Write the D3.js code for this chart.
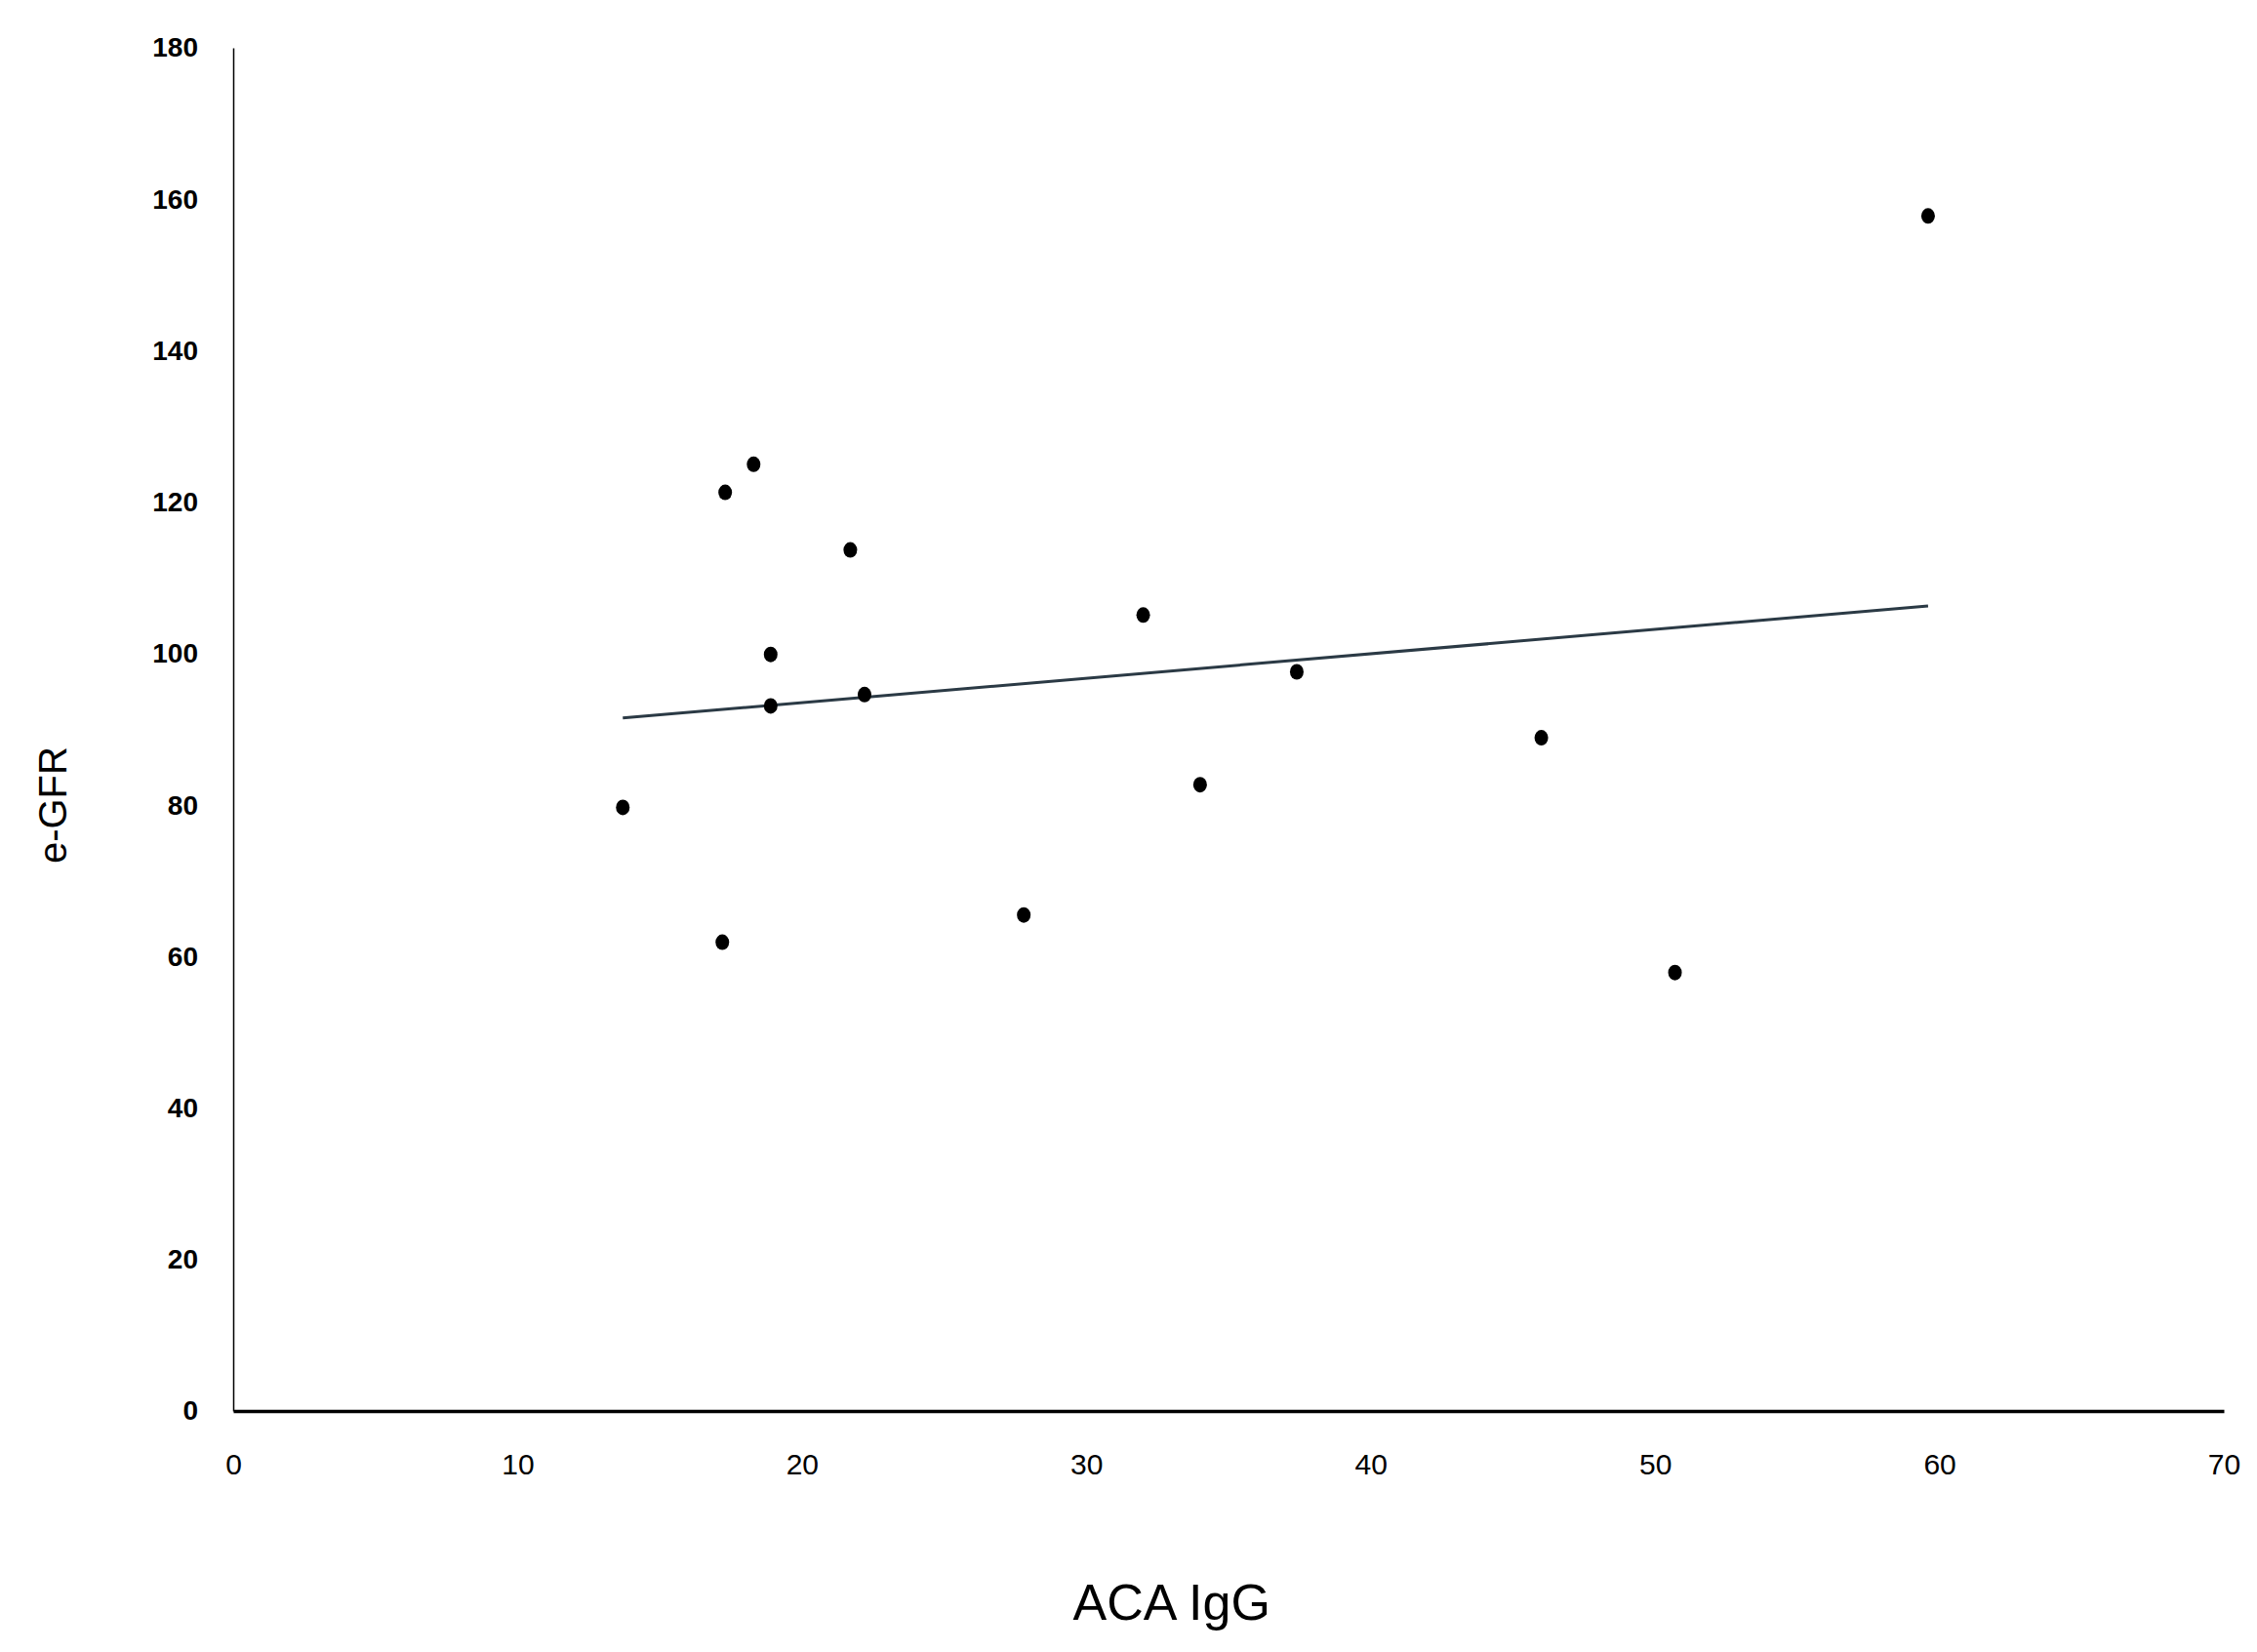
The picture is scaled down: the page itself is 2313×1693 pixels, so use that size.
<!DOCTYPE html>
<html>
<head>
<meta charset="utf-8">
<script src="https://cdn.jsdelivr.net/npm/d3@7"></script>
<style>
  body { margin: 0; background: #fff; }
  text { font-family: "Liberation Sans Narrow", "Liberation Sans", Arial, sans-serif; }
</style>
</head>
<body>
<svg id="chart" width="2313" height="1693"></svg>
<script>
// --- Data ---
const acaIgG = [13.7, 17.3, 18.3, 17.2, 18.9, 18.9, 21.7, 22.2, 27.8, 32.0, 34.0, 37.4, 46.0, 50.7, 59.6];
const eGFR   = [79.7, 121.3, 125.0, 61.9, 99.9, 93.1, 113.7, 94.6, 65.5, 105.1, 82.7, 97.6, 88.9, 57.9, 157.8];
const trendX = [13.7, 59.6];
const trendY = [91.5, 106.3];
const xTicks = [0, 10, 20, 30, 40, 50, 60, 70];
const yTicks = [0, 20, 40, 60, 80, 100, 120, 140, 160, 180];

// --- Layout ---
const svg = d3.select("#chart");
const plotLeft = 239, plotRight = 2279, plotTop = 49, plotBottom = 1446;

const x = d3.scaleLinear().domain([0, 70]).range([plotLeft, plotRight]);
const y = d3.scaleLinear().domain([0, 180]).range([plotBottom, plotTop]);

// Axes
const xAxis = svg.append("g")
    .attr("transform", `translate(0,${plotBottom})`)
    .call(d3.axisBottom(x).tickValues(xTicks).tickSize(0).tickPadding(44));
xAxis.select(".domain").attr("stroke", "#000").attr("stroke-width", 3.5);
xAxis.selectAll("text")
    .attr("font-size", 30).attr("fill", "#000");

const yAxis = svg.append("g")
    .attr("transform", `translate(${plotLeft},0)`)
    .call(d3.axisLeft(y).tickValues(yTicks).tickSize(0).tickPadding(36));
yAxis.select(".domain").attr("stroke", "#000").attr("stroke-width", 1.5);
yAxis.selectAll("text")
    .attr("font-size", 28).attr("font-weight", "bold").attr("fill", "#000");

// Trend line
svg.append("line")
    .attr("x1", x(trendX[0])).attr("y1", y(trendY[0]))
    .attr("x2", x(trendX[1])).attr("y2", y(trendY[1]))
    .attr("stroke", "#2b3a45").attr("stroke-width", 3);

// Points
svg.append("g").selectAll("ellipse")
    .data(acaIgG.map((v, i) => [v, eGFR[i]]))
    .join("ellipse")
    .attr("cx", d => x(d[0]))
    .attr("cy", d => y(d[1]))
    .attr("rx", 7).attr("ry", 8)
    .attr("fill", "#000");

// Axis titles
svg.append("text")
    .attr("x", x(33)).attr("y", 1660)
    .attr("text-anchor", "middle")
    .attr("font-size", 52)
    .text("ACA IgG");

svg.append("text")
    .attr("transform", `translate(68,${y(80)}) rotate(-90)`)
    .attr("text-anchor", "middle")
    .attr("font-size", 40)
    .attr("font-family", "DejaVu Sans, sans-serif")
    .text("e-GFR");
</script>
</body>
</html>
